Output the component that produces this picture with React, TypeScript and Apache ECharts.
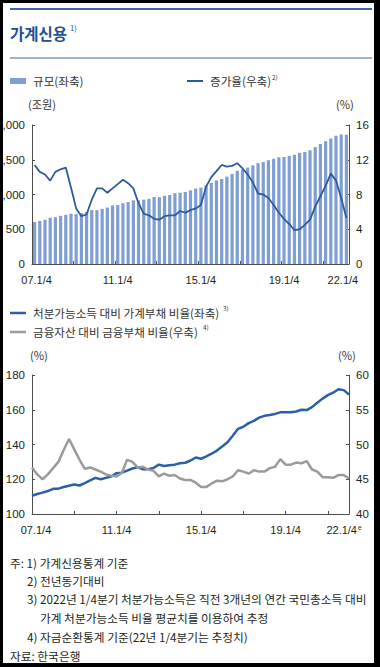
import React, { useEffect, useRef } from "react";
import * as echarts from "echarts";

// ---- data ----
const quarters: string[] = [];
for (let y = 7; y <= 22; y++) {
  for (let q = 1; q <= 4; q++) {
    if (y === 22 && q > 1) break;
    quarters.push(`${String(y).padStart(2, "0")}.${q}/4`);
  }
}
const shownLabels = ["07.1/4", "11.1/4", "15.1/4", "19.1/4", "22.1/4"];

// 가계신용 규모 (조원)
const creditSize = [
  605, 620, 636, 665, 673, 693, 707, 723, 719, 733, 749, 776, 776, 793, 812, 843,
  850, 874, 891, 916, 915, 925, 937, 964, 961, 981, 992, 1019, 1025, 1036, 1060, 1085,
  1099, 1131, 1166, 1203, 1223, 1257, 1296, 1342, 1359, 1388, 1419, 1451, 1468, 1493, 1514, 1537,
  1540, 1556, 1573, 1600, 1611, 1637, 1682, 1726, 1765, 1806, 1845, 1862, 1859,
];
// 증가율 (%)
const creditGrowth = [
  11.4, 10.6, 10.3, 9.6, 10.6, 10.9, 11.1, 8.8, 6.4, 5.5,
  5.7, 7.4, 8.7, 8.7, 8.2, 8.7, 9.2, 9.7, 9.3, 8.7,
  7.0, 5.8, 5.6, 5.2, 5.1, 5.5, 5.6, 5.6, 6.1, 5.9,
  6.2, 6.4, 6.8, 8.9, 10.0, 10.7, 11.4, 11.2, 11.3, 11.6,
  11.0, 10.3, 9.4, 8.1, 8.0, 7.6, 6.8, 5.9, 5.2, 4.6,
  3.9, 4.0, 4.5, 5.1, 6.6, 7.8, 9.0, 10.4, 9.6, 7.6, 5.3,
];
// 처분가능소득 대비 가계부채 비율 (%)
const debtToIncome = [
  110.5, 111.5, 112.3, 113.2, 114.5, 114.6, 115.5, 116.3, 117.0, 116.4,
  117.8, 119.3, 120.8, 120.0, 120.8, 121.6, 123.5, 123.8, 125.0, 126.2,
  127.0, 125.7, 125.8, 126.5, 128.4, 127.6, 128.0, 128.4, 129.2, 129.5,
  130.8, 132.5, 131.8, 133.2, 134.7, 136.5, 138.8, 141.3, 145.0, 149.0,
  150.2, 152.3, 153.6, 155.5, 156.5, 157.0, 157.6, 158.5, 158.6, 158.5,
  159.0, 160.0, 159.8, 161.5, 164.0, 166.4, 168.4, 169.8, 171.8, 171.3, 168.8,
];
// 금융자산 대비 금융부채 비율 (%)
const liabToAssets = [
  46.7, 45.7, 45.0, 45.7, 46.6, 47.5, 49.2, 50.8, 49.3, 47.8,
  46.5, 46.7, 46.4, 46.1, 45.7, 45.5, 45.4, 45.9, 47.8, 47.5,
  46.7, 46.8, 46.4, 46.2, 45.4, 45.8, 45.5, 45.6, 45.1, 44.9,
  44.9, 44.5, 43.9, 43.9, 44.4, 44.8, 44.7, 45.0, 45.4, 46.3,
  46.1, 45.8, 46.3, 46.1, 46.1, 46.6, 46.8, 47.9, 47.1, 47.1,
  47.4, 47.3, 47.6, 46.4, 46.1, 45.3, 45.3, 45.2, 45.6, 45.6, 45.1,
];

const footnotes = [
  "주: 1) 가계신용통계 기준",
  "2) 전년동기대비",
  "3) 2022년 1/4분기 처분가능소득은 직전 3개년의 연간 국민총소득 대비",
  "가계 처분가능소득 비율 평균치를 이용하여 추정",
  "4) 자금순환통계 기준(22년 1/4분기는 추정치)",
  "자료: 한국은행",
];

// ---- styles ----
const KR = "'Noto Sans CJK KR', 'Noto Sans', sans-serif";
const NUM = "'Liberation Sans', Arial, sans-serif";
const BAR = "#7f9fd3";
const NAVY = "#2d5aa0";
const BLUE2 = "#2b5fa8";
const GRAY = "#9b9b9b";
const AXIS = "#4d4d4d";
const TXT = "#231f20";
const RULE = "#3e65a8";

function App() {
  const ref = useRef<HTMLDivElement>(null);

  useEffect(() => {
    if (!ref.current) return;
    const chart = echarts.init(ref.current, undefined, { renderer: "svg" });

    const X_FS = 11;
    const base = { fontFamily: NUM, fontSize: X_FS, color: TXT };
    const shown = (i: number) => shownLabels.includes(quarters[i]);
    const xBase = (gridIndex: number, boundaryGap: boolean, firstPad: number, lastPad: number, sup: boolean) => ({
      type: "category",
      gridIndex,
      data: quarters,
      boundaryGap,
      axisLine: { show: true, lineStyle: { color: AXIS, width: 1 } },
      axisTick: { show: true, inside: true, length: 3, interval: (i: number) => i % 8 === 0, lineStyle: { color: AXIS } },
      axisLabel: {
        interval: (i: number) => shown(i),
        margin: 10,
        formatter: (v: string, i: number) => {
          if (i === 0) return `{f|${v}}`;
          if (i === quarters.length - 1) return sup ? `{a|${v}}{e|e}` : `{l|${v}}`;
          return `{a|${v}}`;
        },
        rich: {
          a: base,
          f: { ...base, padding: [0, 0, 0, firstPad] },
          l: { ...base, padding: [0, lastPad, 0, 0] },
          e: { fontFamily: NUM, fontSize: 6.5, color: TXT, verticalAlign: "top", padding: [0, lastPad, 0, 1] },
        },
      },
    });
    const yBase = (gridIndex: number, position: string, min: number, max: number, interval: number, comma = false) => ({
      type: "value",
      gridIndex,
      position,
      min,
      max,
      interval,
      splitLine: { show: false },
      axisLine: { show: true, lineStyle: { color: AXIS, width: 1 } },
      axisTick: { show: true, inside: true, length: 3, lineStyle: { color: AXIS } },
      axisLabel: {
        margin: 7,
        color: TXT,
        fontFamily: NUM,
        fontSize: 11.5,
        formatter: (v: number) => (comma ? v.toLocaleString("en-US") : String(v)),
      },
    });

    // all graphic coordinates are page coordinates
    const text = (x: number, y: number, t: string, o: any = {}) => ({
      type: "text",
      x,
      y,
      style: { text: t, fontFamily: KR, fontSize: 11.6, fill: "#333", verticalAlign: "middle", ...o },
    });

    const graphic: any[] = [
      { type: "line", shape: { x1: 10, y1: 9, x2: 372, y2: 9 }, style: { stroke: RULE, lineWidth: 2.2 } },
      text(10, 33, "가계신용", { fontSize: 15.5, fontWeight: "bold", fill: "#244f8e" }),
      text(70, 27, "1)", { fontSize: 7.5, fill: "#244f8e" }),
      { type: "line", shape: { x1: 10, y1: 58, x2: 372, y2: 58 }, style: { stroke: RULE, lineWidth: 1 } },
      { type: "rect", shape: { x: 10, y: 78, width: 16, height: 6 }, style: { fill: BAR } },
      text(33, 81, "규모(좌축)"),
      { type: "line", shape: { x1: 187, y1: 81, x2: 203, y2: 81 }, style: { stroke: NAVY, lineWidth: 2 } },
      text(210, 81, "증가율(우축)"),
      text(272, 77, "2)", { fontSize: 6.5 }),
      text(28, 104, "(조원)", { fontSize: 11.2 }),
      text(336, 104, "(%)", { fontSize: 11.2 }),
      { type: "line", shape: { x1: 10, y1: 313, x2: 26, y2: 313 }, style: { stroke: BLUE2, lineWidth: 2.5 } },
      text(33, 313, "처분가능소득 대비 가계부채 비율(좌축)"),
      text(223, 308, "3)", { fontSize: 6.5 }),
      { type: "line", shape: { x1: 10, y1: 332, x2: 26, y2: 332 }, style: { stroke: GRAY, lineWidth: 2.5 } },
      text(33, 332, "금융자산 대비 금융부채 비율(우축)"),
      text(203, 327, "4)", { fontSize: 6.5 }),
      text(30, 355, "(%)", { fontSize: 11.2 }),
      text(338, 355, "(%)", { fontSize: 11.2 }),
    ];
    const fnX = [10, 27, 27, 40, 27, 10];
    const fnY = [562, 580, 598, 617, 636, 655];
    footnotes.forEach((f, i) => graphic.push(text(fnX[i], fnY[i], f, { fill: TXT, fontSize: 11.7 })));
    // black frame drawn on top
    const frame = { fill: "#000" };
    graphic.push(
      { type: "rect", z: 100, shape: { x: 0, y: 0, width: 3, height: 667 }, style: frame },
      { type: "rect", z: 100, shape: { x: 0, y: 0, width: 380, height: 3 }, style: frame },
      { type: "rect", z: 100, shape: { x: 374, y: 0, width: 6, height: 667 }, style: frame },
      { type: "rect", z: 100, shape: { x: 0, y: 663, width: 380, height: 4 }, style: frame }
    );

    chart.setOption({
      animation: false,
      backgroundColor: "#fff",
      grid: [
        { left: 32, top: 125, width: 317, height: 139, outerBoundsMode: "none", containLabel: false },
        { left: 32, top: 375, width: 317, height: 139, outerBoundsMode: "none", containLabel: false },
      ],
      xAxis: [xBase(0, true, 4, 7, false), xBase(1, false, 8, 10, true)],
      yAxis: [
        yBase(0, "left", 0, 2000, 500, true),
        yBase(0, "right", 0, 16, 4),
        yBase(1, "left", 100, 180, 20),
        yBase(1, "right", 40, 60, 5),
      ],
      series: [
        { type: "bar", xAxisIndex: 0, yAxisIndex: 0, data: creditSize, barCategoryGap: "38%", itemStyle: { color: BAR } },
        { type: "line", xAxisIndex: 0, yAxisIndex: 1, data: creditGrowth, symbol: "none", lineStyle: { color: NAVY, width: 1.8 } },
        { type: "line", xAxisIndex: 1, yAxisIndex: 2, data: debtToIncome, symbol: "none", lineStyle: { color: BLUE2, width: 2.5 } },
        { type: "line", xAxisIndex: 1, yAxisIndex: 3, data: liabToAssets, symbol: "none", lineStyle: { color: GRAY, width: 2.5 } },
      ],
      graphic,
    });
    return () => chart.dispose();
  }, []);

  return (
    <div ref={ref} style={{ position: "fixed", left: 0, top: 0, width: 380, height: 667, background: "#fff" }} />
  );
}

export default App;
